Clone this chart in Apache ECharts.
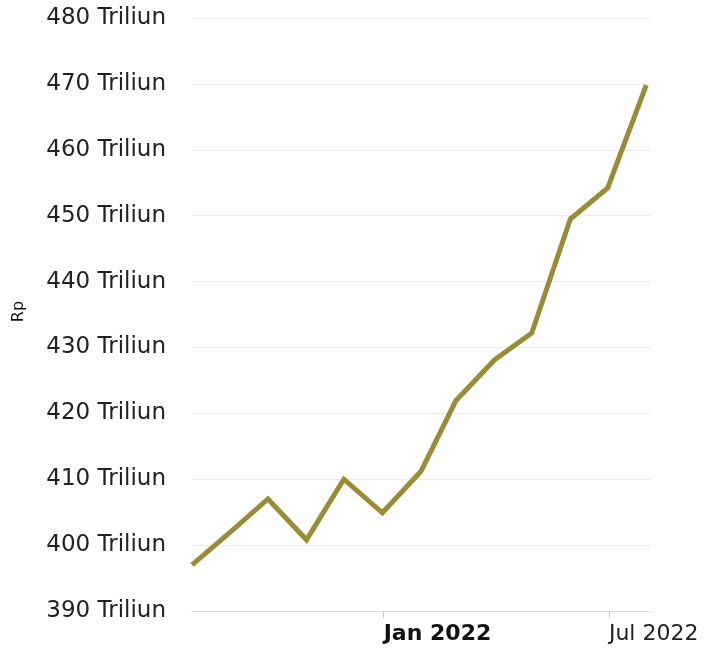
<!DOCTYPE html>
<html>
<head>
<meta charset="utf-8">
<script src="https://cdn.jsdelivr.net/npm/echarts@6/dist/echarts.min.js"></script>
<style>
  html, body { margin: 0; padding: 0; background: #fff; }
  #chart { width: 709px; height: 648px; }
</style>
</head>
<body>
<div id="chart"></div>
<script>
// data points (end of month)
const dates = [
  '2021-07-31', '2021-08-31', '2021-09-30', '2021-10-31', '2021-11-30', '2021-12-31',
  '2022-01-31', '2022-02-28', '2022-03-31', '2022-04-30', '2022-05-31', '2022-06-30', '2022-07-31'
]
const values = [397, 402, 407, 400.8, 410, 404.9, 411.2, 421.9, 428.1, 432.2, 449.5, 454.2, 469.8]

// x axis tick labels
const xTicks = ['2022-01-01', '2022-07-01']
const monthNames = ['Jan', 'Feb', 'Mar', 'Apr', 'May', 'Jun', 'Jul', 'Aug', 'Sep', 'Oct', 'Nov', 'Dec']

const ts = (d) => +new Date(d + 'T00:00:00Z')
const font = 'DejaVu Sans'
const chart = echarts.init(document.getElementById('chart'))

// time drawn on a plain value axis so ticks can be placed on given dates
chart.setOption({
  animation: false,
  grid: { left: 192, right: 59, top: 18, bottom: 37 },
  xAxis: {
    type: 'value',
    min: ts('2021-07-31'),
    max: ts('2022-08-03'),
    axisLine: { lineStyle: { color: '#dcdcdc', width: 1 } },
    axisTick: {
      show: true,
      length: 7,
      lineStyle: { color: '#cccccc' },
      customValues: xTicks.map(ts)
    },
    axisLabel: {
      customValues: xTicks.map(ts),
      align: 'left',
      margin: 12,
      fontFamily: font,
      fontSize: 22,
      color: '#222',
      formatter: (v) => {
        const d = new Date(v)
        const txt = monthNames[d.getUTCMonth()] + ' ' + d.getUTCFullYear()
        return d.getUTCMonth() === 0 ? '{b|' + txt + '}' : txt
      },
      rich: {
        b: { fontWeight: 'bold', fontFamily: font, fontSize: 22, color: '#111' }
      }
    },
    splitLine: { show: false }
  },
  yAxis: {
    type: 'value',
    min: 390,
    max: 480,
    interval: 10,
    name: 'Rp',
    nameLocation: 'middle',
    nameGap: 165,
    nameTextStyle: { fontFamily: font, fontSize: 16, color: '#111', padding: [0, 0, 0, 6] },
    axisLine: { show: false },
    axisTick: { show: false },
    axisLabel: {
      margin: 26,
      fontFamily: font,
      fontSize: 23,
      color: '#222',
      formatter: '{value} Triliun'
    },
    splitLine: { lineStyle: { color: '#ebebeb', width: 1 } }
  },
  series: [
    {
      type: 'line',
      data: dates.map((d, i) => [ts(d), values[i]]),
      showSymbol: false,
      lineStyle: { color: '#9a8c36', width: 5, join: 'miter' },
      itemStyle: { color: '#9a8c36' }
    }
  ]
})
</script>
</body>
</html>
